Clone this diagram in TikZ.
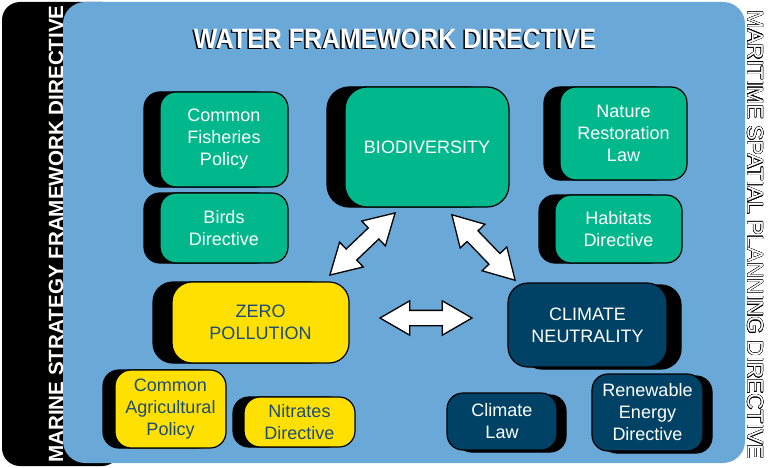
\documentclass[tikz,border=0pt]{standalone}
\usepackage{fontspec}
\setmainfont{Liberation Sans}
\usepackage{contour}
\contourlength{0.35pt}
\usetikzlibrary{shapes.arrows,shadows}
\definecolor{panelblue}{RGB}{106,168,216}
\definecolor{boxgreen}{RGB}{0,184,140}
\definecolor{boxyellow}{RGB}{255,224,0}
\definecolor{boxnavy}{RGB}{0,66,102}
\definecolor{textnavy}{RGB}{28,76,120}
\tikzset{
 box/.style={draw=black, line width=1.2pt, rounded corners=16pt, align=center, inner sep=2pt, font=\fontsize{18}{22}\selectfont},
 greenbox/.style={box, fill=boxgreen, text=white},
 yellowbox/.style={box, fill=boxyellow, text=textnavy},
 navybox/.style={box, fill=boxnavy, text=white},
 shl/.style={general shadow={fill=black, draw=black, line width=1.2pt, shadow xshift=-#1, shadow yshift=0pt}},
 shr/.style={general shadow={fill=black, draw=black, line width=1.2pt, shadow xshift=#1, shadow yshift=-2pt}},
 bigarrow/.style={double arrow, draw=black, fill=white, line width=1.3pt, inner xsep=0pt, inner ysep=7pt, double arrow head extend=9.5pt, double arrow tip angle=60, minimum height=#1},
}
\begin{document}
\begin{tikzpicture}[x=1pt, y=-1pt]
\useasboundingbox (0,0) rectangle (768,468);
\fill[white] (0,0) rectangle (768,468);
% side bar and panel
\fill[black, rounded corners=18pt] (2,2) rectangle (120,466);
\fill[panelblue, rounded corners=22pt] (63,2) rectangle (745,463);
\node[rotate=90, text=white, font=\bfseries\fontsize{20.6}{20.6}\selectfont] (msfd) at (56,234) {MARINE STRATEGY FRAMEWORK DIRECTIVE};
\node[rotate=-90, text=white, font=\fontsize{22.3}{22.3}\selectfont] (mspd) at (755,235) {\contour{black}{MARITIME SPATIAL PLANNING DIRECTIVE}};
% title
\node[text=black, xscale=0.89, font=\bfseries\fontsize{28}{28}\selectfont] (wfds) at (393.5,40) {WATER FRAMEWORK DIRECTIVE};
\node[text=white, xscale=0.89, font=\bfseries\fontsize{28}{28}\selectfont] (wfd) at (395,39) {WATER FRAMEWORK DIRECTIVE};
% green
\node[greenbox, shl=16pt, minimum width=128pt, minimum height=95pt] (cfp) at (224,139.5) {Common\\Fisheries\\Policy};
\node[greenbox, shl=16pt, minimum width=128pt, minimum height=70pt] (birds) at (224,228) {Birds\\Directive};
\node[greenbox, shl=18pt, rounded corners=22pt, minimum width=164pt, minimum height=120pt] (bio) at (427,147) {BIODIVERSITY};
\node[greenbox, shl=16pt, minimum width=127pt, minimum height=93pt] (nrl) at (623.5,133.5) {Nature\\Restoration\\Law};
\node[greenbox, shl=16pt, minimum width=127pt, minimum height=68pt] (hab) at (618.5,229) {Habitats\\Directive};
% yellow
\node[yellowbox, shl=19pt, rounded corners=20pt, minimum width=177pt, minimum height=81pt] (zero) at (260.5,322.5) {ZERO\\POLLUTION};
\node[yellowbox, shl=12pt, minimum width=111pt, minimum height=78pt] (cap) at (170.5,409) {Common\\Agricultural\\Policy};
\node[yellowbox, shl=11pt, minimum width=111pt, minimum height=50pt] (nit) at (299.5,422) {Nitrates\\Directive};
% navy
\node[navybox, shr=14pt, rounded corners=20pt, minimum width=159pt, minimum height=84pt] (cn) at (587.5,325) {CLIMATE\\NEUTRALITY};
\node[navybox, shr=9pt, minimum width=110pt, minimum height=57pt] (cl) at (502,421.5) {Climate\\Law};
\node[navybox, shr=9pt, minimum width=111pt, minimum height=77pt] (red) at (647.5,412.5) {Renewable\\Energy\\Directive};
% arrows
\node[bigarrow=90pt, rotate=43.6] (a1) at (362.5,244) {};
\node[bigarrow=91pt, rotate=-46] (a2) at (483.5,247.5) {};
\node[bigarrow=92pt] (a3) at (426,318) {};
\end{tikzpicture}
\end{document}
